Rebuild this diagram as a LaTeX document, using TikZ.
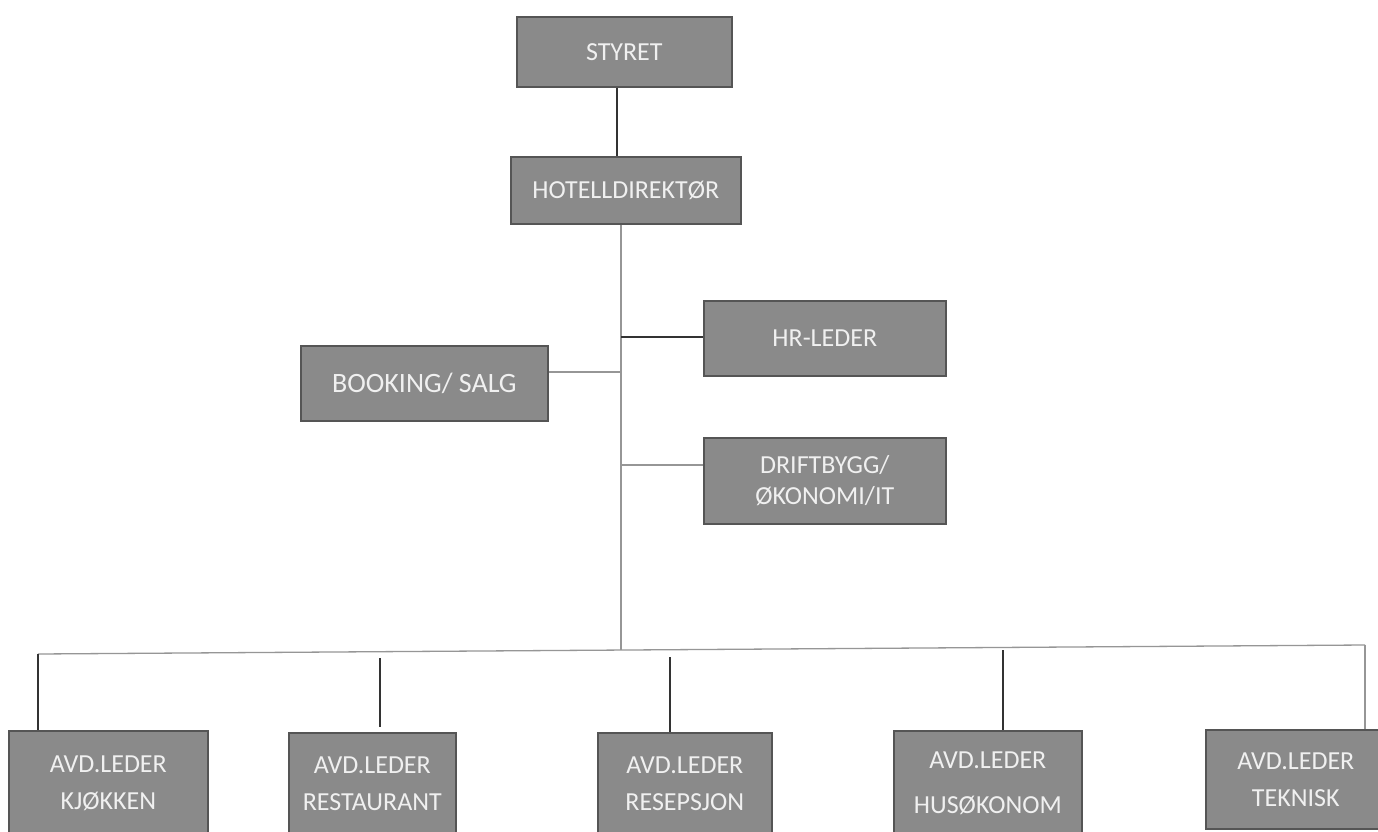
\documentclass[tikz,border=0pt]{standalone}
\usepackage{fontspec}
\setmainfont{Carlito}
\definecolor{boxfill}{RGB}{138,138,138}
\definecolor{boxline}{RGB}{85,85,85}
\definecolor{lgrey}{RGB}{150,150,150}
\begin{document}
\begin{tikzpicture}[x=1pt,y=-1pt,
 box/.style={draw=boxline, fill=boxfill, line width=1.6pt, text=white!94!black,
   font=\fontsize{26}{37}\selectfont, align=center, inner sep=0pt, anchor=north west},
 darkline/.style={draw=black!80, line width=1.3pt},
 greyline/.style={draw=lgrey, line width=1.3pt}]
\useasboundingbox[fill=white] (0,0) rectangle (1378,832);
\node[box, minimum width=215, minimum height=70] (styret) at (516,16) {STYRET};
\node[box, minimum width=230, minimum height=67] (hotell) at (510,156) {HOTELLDIREKTØR};
\node[box, minimum width=242, minimum height=75] (hr) at (703,300) {HR-LEDER};
\node[box, minimum width=247, minimum height=75, font=\fontsize{28}{32}\selectfont] (book) at (300,345) {BOOKING/ SALG};
\node[box, minimum width=242, minimum height=86, font=\fontsize{26}{31}\selectfont] (drift) at (703,437) {DRIFTBYGG/\\ØKONOMI/IT};
\node[box, minimum width=199, minimum height=104] (kjokken) at (8,730) {AVD.LEDER\\KJØKKEN};
\node[box, minimum width=167, minimum height=102] (rest) at (288,732) {AVD.LEDER\\RESTAURANT};
\node[box, minimum width=174, minimum height=102] (resep) at (597,732) {AVD.LEDER\\RESEPSJON};
\node[box, minimum width=188, minimum height=104, font=\fontsize{26}{45}\selectfont] (hus) at (893,730) {AVD.LEDER\\HUSØKONOM};
\node[box, minimum width=180, minimum height=99] (tek) at (1205,729) {AVD.LEDER\\TEKNISK};
% connectors
\draw[darkline] (styret.south -| 617,0) -- (hotell.north -| 617,0);
\coordinate (bus) at (621,650);
\coordinate (jhr) at (621,337);
\coordinate (jbook) at (621,372);
\coordinate (jdrift) at (621,465);
\draw[greyline] (hotell.south -| bus) -- (bus);
\draw[darkline] (jhr) -- (hr.west |- jhr);
\draw[greyline] (jbook) -- (book.east |- jbook);
\draw[greyline] (jdrift) -- (drift.west |- jdrift);
\coordinate (busL) at (38,654);
\coordinate (busR) at (1365,645);
\draw[greyline] (busL) -- (busR);
\coordinate (d2) at (380,658);
\coordinate (d3) at (670,657);
\coordinate (d4) at (1003,650);
\draw[darkline] (busL) -- (kjokken.north -| busL);
\draw[darkline] (d2) -- (380,727);
\draw[darkline] (d3) -- (resep.north -| d3);
\draw[darkline] (d4) -- (hus.north -| d4);
\draw[greyline] (busR) -- (tek.north -| busR);
\end{tikzpicture}
\end{document}
